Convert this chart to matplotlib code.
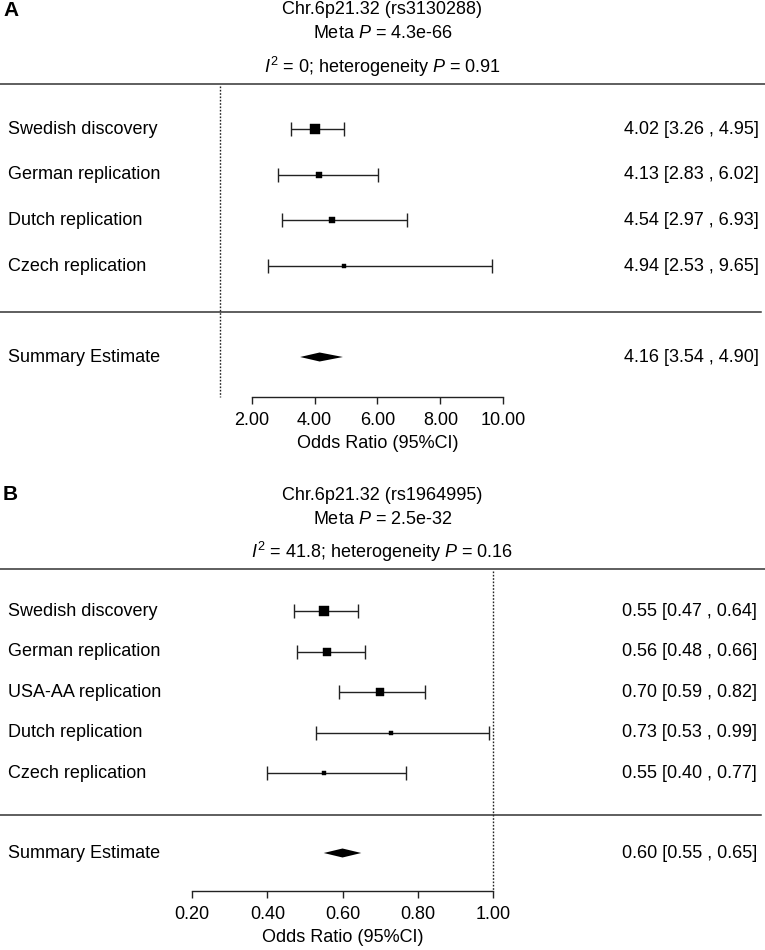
import matplotlib
matplotlib.use('Agg')
import matplotlib.pyplot as plt

plt.rcParams['font.family'] = ['Liberation Sans', 'DejaVu Sans']
plt.rcParams['mathtext.fontset'] = 'custom'
plt.rcParams['mathtext.rm'] = 'Liberation Sans'
plt.rcParams['mathtext.it'] = 'Liberation Sans:italic'

# ---- panel A data ----
studies_a = ['Swedish discovery', 'German replication', 'Dutch replication', 'Czech replication']
or_a = [4.02, 4.13, 4.54, 4.94]
lo_a = [3.26, 2.83, 2.97, 2.53]
hi_a = [4.95, 6.02, 6.93, 9.65]
wt_a = [1.0, 0.6, 0.6, 0.38]          # relative box size (study weight)
summary_a = [4.16, 3.54, 4.90]
ticks_a = [2, 4, 6, 8, 10]
snp_a, meta_p_a, i2_a, het_p_a = 'rs3130288', '4.3e-66', '0', '0.91'

# ---- panel B data ----
studies_b = ['Swedish discovery', 'German replication', 'USA-AA replication',
             'Dutch replication', 'Czech replication']
or_b = [0.55, 0.56, 0.70, 0.73, 0.55]
lo_b = [0.47, 0.48, 0.59, 0.53, 0.40]
hi_b = [0.64, 0.66, 0.82, 0.99, 0.77]
wt_b = [1.0, 0.88, 0.88, 0.38, 0.42]
summary_b = [0.60, 0.55, 0.65]
ticks_b = [0.2, 0.4, 0.6, 0.8, 1.0]
snp_b, meta_p_b, i2_b, het_p_b = 'rs1964995', '2.5e-32', '41.8', '0.16'

W, H = 765, 950
FS = 13
LC = '#222222'
fig = plt.figure(figsize=(W / 100, H / 100), dpi=100)


def px(x):
    return x / W


def draw_panel(letter, studies, est, lo, hi, wt, summ, ticks, snp, meta_p, i2, het_p,
               tick_px, rule_y, row0, step, mid_y, sum_y, axis_y, right_px):
    ax = fig.add_axes([0, 0, 1, 1])
    ax.patch.set_alpha(0)
    # x scale: pin first and last tick to their pixel positions
    t0, t1 = ticks[0], ticks[-1]
    scale = (tick_px[1] - tick_px[0]) / (t1 - t0)
    ax.set_xlim(t0 - tick_px[0] / scale, t1 + (W - tick_px[1]) / scale)
    ax.set_ylim(H, 0)
    tr = ax.get_yaxis_transform()

    # header
    ax.text(px(3), rule_y - 74, letter, transform=tr, fontsize=15, fontweight='bold',
            ha='left', va='center')
    ax.text(0.5, rule_y - 74, f'Chr.6p21.32 ({snp})', transform=tr, fontsize=FS,
            ha='center', va='center')
    ax.text(0.5, rule_y - 50, f'Meta $P$ = {meta_p}', transform=tr, fontsize=FS,
            ha='center', va='center')
    ax.text(0.5, rule_y - 17, f'$I^2$ = {i2}; heterogeneity $P$ = {het_p}', transform=tr,
            fontsize=FS, ha='center', va='center')
    ax.plot([0, 1], [rule_y, rule_y], transform=tr, color='#333333', lw=1.1)

    rows = [row0 + step * i for i in range(len(studies))]
    ax.plot([0, 0.995], [mid_y, mid_y], transform=tr, color='#333333', lw=1.1)

    # null line
    ax.plot([1, 1], [rule_y + 2, axis_y], color=LC, lw=1.0, ls=(0, (1.2, 1.2)))

    for name, e, l, h, w, y in zip(studies, est, lo, hi, wt, rows):
        ax.errorbar(e, y, xerr=[[e - l], [h - e]], fmt='none', ecolor=LC, elinewidth=1.0,
                    capsize=5, capthick=1.0)
        ax.plot(e, y, marker='s', color='black', ms=6.6 * w, mec='black', mew=0.3)
        ax.text(px(8), y, name, transform=tr, fontsize=FS, ha='left', va='center')
        ax.text(px(right_px), y, f'{e:.2f} [{l:.2f} , {h:.2f}]', transform=tr, fontsize=FS,
                ha='right', va='center')

    se, sl, sh = summ
    ax.fill([sl, se, sh, se], [sum_y, sum_y - 4.5, sum_y, sum_y + 4.5], color='black', lw=0)
    ax.text(px(8), sum_y, 'Summary Estimate', transform=tr, fontsize=FS, ha='left', va='center')
    ax.text(px(right_px), sum_y, f'{se:.2f} [{sl:.2f} , {sh:.2f}]', transform=tr, fontsize=FS,
            ha='right', va='center')

    # x axis
    for s in ['left', 'right', 'top']:
        ax.spines[s].set_visible(False)
    ax.spines['bottom'].set_position(('data', axis_y))
    ax.spines['bottom'].set_bounds(t0, t1)
    ax.spines['bottom'].set_color(LC)
    ax.spines['bottom'].set_linewidth(1.0)
    ax.set_yticks([])
    ax.set_xticks(ticks)
    ax.set_xticklabels([f'{t:.2f}' for t in ticks])
    ax.tick_params(axis='x', direction='out', length=5, width=1.0, color=LC,
                   labelsize=FS, pad=5.5)
    ax.text((t0 + t1) / 2, axis_y + 47, 'Odds Ratio (95%CI)', fontsize=FS,
            ha='center', va='center')


draw_panel('A', studies_a, or_a, lo_a, hi_a, wt_a, summary_a, ticks_a, snp_a, meta_p_a,
           i2_a, het_p_a, tick_px=(251.7, 503.3), rule_y=84, row0=129, step=45.7,
           mid_y=312, sum_y=357, axis_y=397, right_px=759)
draw_panel('B', studies_b, or_b, lo_b, hi_b, wt_b, summary_b, ticks_b, snp_b, meta_p_b,
           i2_b, het_p_b, tick_px=(192.3, 492.7), rule_y=569, row0=611, step=40.6,
           mid_y=815, sum_y=853, axis_y=891, right_px=757)

plt.savefig('out.png', dpi=100)
